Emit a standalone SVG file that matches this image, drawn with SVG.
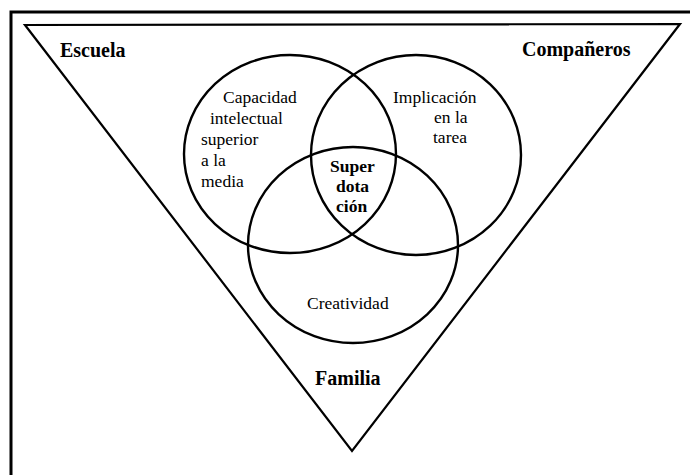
<svg xmlns="http://www.w3.org/2000/svg" width="690" height="475" viewBox="0 0 690 475">
  <style>
    .frame { fill: none; stroke: #000; stroke-width: 3; }
    .tri { fill: none; stroke: #000; stroke-width: 2.2; stroke-linejoin: miter; }
    .set { fill: none; stroke: #000; stroke-width: 2.4; }
  </style>
  <rect width="690" height="475" fill="#fff"/>

  <!-- outer frame (left and top edges) -->
  <g id="frame">
    <path class="frame" d="M11,475 V12 H690"/>
  </g>

  <!-- connectors: the surrounding context triangle -->
  <g id="connectors">
    <polygon class="tri" points="25,25 680,24 352,451"/>
  </g>

  <g font-family="Liberation Serif, DejaVu Serif, serif" fill="#000">
    <!-- context labels at the triangle corners -->
    <g id="escuela">
      <text x="60" y="57" font-size="20" font-weight="bold">Escuela</text>
    </g>
    <g id="companeros">
      <text x="522" y="56" font-size="20" font-weight="bold">Compañeros</text>
    </g>
    <g id="familia">
      <text x="315" y="385" font-size="20" font-weight="bold">Familia</text>
    </g>

    <!-- three overlapping sets -->
    <g id="capacidad">
      <ellipse class="set" cx="290" cy="154" rx="106" ry="99"/>
      <text font-size="17.5">
        <tspan x="223" y="103">Capacidad</tspan>
        <tspan x="210" y="124">intelectual</tspan>
        <tspan x="201" y="145">superior</tspan>
        <tspan x="201" y="166">a la</tspan>
        <tspan x="201" y="187">media</tspan>
      </text>
    </g>
    <g id="implicacion">
      <ellipse class="set" cx="416" cy="155" rx="105" ry="100"/>
      <text font-size="17.5">
        <tspan x="393" y="103">Implicación</tspan>
        <tspan x="434" y="123">en la</tspan>
        <tspan x="433" y="143">tarea</tspan>
      </text>
    </g>
    <g id="creatividad">
      <ellipse class="set" cx="353" cy="245" rx="105" ry="98"/>
      <text x="307" y="309" font-size="17.5">Creatividad</text>
    </g>

    <!-- central intersection -->
    <g id="superdotacion">
      <text font-size="17.5" font-weight="bold">
        <tspan x="330" y="172">Super</tspan>
        <tspan x="336" y="192">dota</tspan>
        <tspan x="336" y="212">ción</tspan>
      </text>
    </g>
  </g>
</svg>
